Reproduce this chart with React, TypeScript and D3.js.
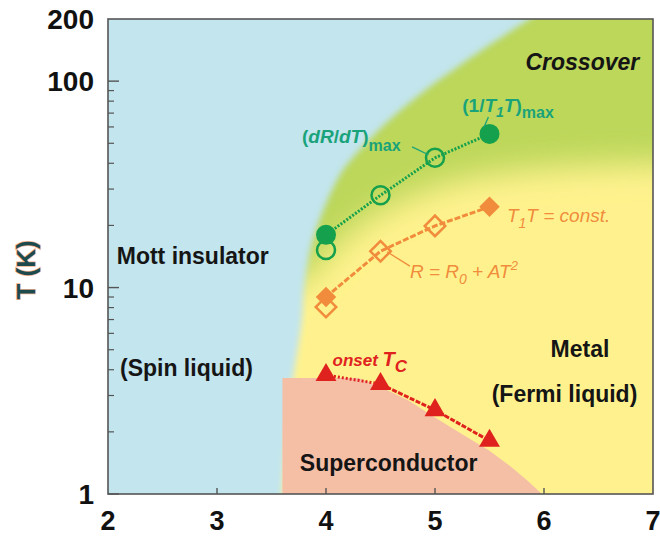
import * as d3 from "d3";

// axis ticks
const xTicks = [2, 3, 4, 5, 6, 7];
const yTickLabels = [1, 10, 100, 200];
const yMajor = [1, 10, 100];
const yMinor = [2, 3, 4, 5, 6, 7, 8, 9, 20, 30, 40, 50, 60, 70, 80, 90];

// green: (dR/dT)max open circles, (1/T1T)max filled circles
const dRdTx = [4, 4.5, 5];
const dRdTT = [15.2, 28, 42.5];
const nmrX = [4, 5.5];
const nmrT = [18, 55.5];
const greenLineX = [4, 4.5, 5, 5.5];
const greenLineT = [18, 28, 42.5, 55.5];

// orange: R = R0 + AT^2 open diamonds, T1T = const filled diamonds
const fermiX = [4, 4.5, 5];
const fermiT = [8.05, 15, 19.9];
const korrX = [4, 5.5];
const korrT = [9, 24.6];
const orangeLineX = [4, 4.5, 5, 5.5];
const orangeLineT = [9, 15, 19.9, 24.6];

// red: onset Tc
const tcX = [4, 4.5, 5, 5.5];
const tcT = [3.77, 3.41, 2.55, 1.81];

// region boundaries (x, T)
const mottEdgeX = [3.6, 3.67, 3.78, 3.8, 3.88, 4.1, 4.22, 4.68, 5.29, 5.87];
const mottEdgeT = [1, 2.85, 7, 10, 17, 33, 41, 72, 126, 200];
const crossEdgeX = [3.82, 4.2, 4.6, 5.2, 6, 7];
const crossEdgeT = [11, 18, 25, 33, 38, 40];
const scEdgeX = [3.6, 3.6, 4.3, 4.5, 4.75, 5, 5.25, 5.5, 5.7, 5.85, 5.98];
const scEdgeT = [1, 3.65, 3.65, 3.3, 2.85, 2.35, 1.95, 1.62, 1.35, 1.16, 1];

const W = 660;
const H = 537;
const x = d3.scaleLinear().domain([2, 7]).range([108, 653]);
const y = d3.scaleLog().domain([1, 200]).range([494, 19]);

const zip = (a: number[], b: number[]) => a.map((v, i) => [v, b[i]] as [number, number]);
const curve = d3
  .line<[number, number]>()
  .x((d) => x(d[0]))
  .y((d) => y(d[1]))
  .curve(d3.curveCatmullRom);
const straight = d3
  .line<[number, number]>()
  .x((d) => x(d[0]))
  .y((d) => y(d[1]));

const GREEN = "#14a04c";
const GREEN_TXT = "#1aa37a";
const ORANGE = "#f08c3c";
const RED = "#e0221e";

export default function App() {
  const mott = zip(mottEdgeX, mottEdgeT);
  const bluePath =
    curve(mott) +
    `L${x(6.4)},${y(400)}L${x(1.5)},${y(400)}L${x(1.5)},${y(0.5)}L${x(3.6)},${y(0.5)}Z`;

  // crossover tint reaches under the blue region so its blurred top edge stays green
  const greenPath =
    `M${x(1.5)},${y(400)}L${x(7.6)},${y(400)}L${x(7.6)},${y(40)}` +
    curve(zip(crossEdgeX, crossEdgeT).reverse())!.replace(/^M/, "L") +
    `L${x(3.3)},${y(9)}L${x(1.5)},${y(9)}Z`;

  const scPath =
    straight(zip(scEdgeX, scEdgeT)) + `L${x(5.98)},${y(0.5)}L${x(3.6)},${y(0.5)}Z`;

  const tri = d3.symbol(d3.symbolTriangle, 190)()!;
  const dia = d3.symbol(d3.symbolSquare, 210)()!;

  const bold = { fontFamily: "Liberation Sans, Arial, sans-serif", fontWeight: 700 } as const;
  const ital = { fontFamily: "Liberation Sans, Arial, sans-serif", fontStyle: "italic" } as const;

  return (
    <svg width={W} height={H} style={{ position: "absolute", left: 0, top: 0 }}>
      <defs>
        <clipPath id="plot">
          <rect x={108} y={19} width={545} height={475} />
        </clipPath>
        <filter id="soft" x="-50%" y="-50%" width="200%" height="200%">
          <feGaussianBlur stdDeviation="16" />
        </filter>
        <filter id="edge" x="-20%" y="-20%" width="140%" height="140%">
          <feGaussianBlur stdDeviation="3" />
        </filter>
      </defs>

      <g clipPath="url(#plot)">
        <rect x={108} y={19} width={545} height={475} fill="#fff28e" />
        <path d={greenPath} fill="#bcd75a" filter="url(#soft)" />
        <path d={bluePath} fill="#c2e5ee" filter="url(#edge)" />
        <path d={scPath} fill="#f5bfa6" />
      </g>

      {/* frame and ticks */}
      <rect x={108} y={19} width={545} height={475} fill="none" stroke="#555" strokeWidth={1.6} />
      {yMajor.map((t) => (
        <line key={"M" + t} x1={108} x2={119} y1={y(t)} y2={y(t)} stroke="#555" strokeWidth={1.4} />
      ))}
      {yMinor.map((t) => (
        <line key={"m" + t} x1={108} x2={114} y1={y(t)} y2={y(t)} stroke="#555" strokeWidth={1.2} />
      ))}
      {xTicks.slice(1, -1).map((t) => (
        <line key={"x" + t} x1={x(t)} x2={x(t)} y1={494} y2={488} stroke="#555" strokeWidth={1.4} />
      ))}
      {yTickLabels.map((t) => (
        <text key={"yl" + t} x={94} y={y(t)} dy="0.36em" textAnchor="end" fontSize={28} fill="#111" style={bold}>
          {t}
        </text>
      ))}
      {xTicks.map((t) => (
        <text key={"xl" + t} x={x(t)} y={530} textAnchor="middle" fontSize={27} fill="#111" style={bold}>
          {t}
        </text>
      ))}
      <text
        transform="translate(35,270) rotate(-90)"
        textAnchor="middle"
        fontSize={26}
        fill="#1d4b4d"
        stroke="#f6b491"
        strokeWidth={1.5}
        paintOrder="stroke"
        style={bold}
      >
        T (K)
      </text>

      {/* region labels */}
      <g fontSize={23} fill="#151515" style={bold}>
        <text x={x(5.83)} y={y(113)} style={{ ...bold, fontStyle: "italic" }}>Crossover</text>
        <text x={x(2.08)} y={y(13)}>Mott insulator</text>
        <text x={x(2.11)} y={y(3.73)}>(Spin liquid)</text>
        <text x={x(6.06)} y={y(4.61)}>Metal</text>
        <text x={x(5.52)} y={y(2.79)}>(Fermi liquid)</text>
        <text x={x(3.76)} y={y(1.29)}>Superconductor</text>
      </g>

      {/* red onset Tc */}
      <path
        d={straight(zip(tcX.slice(0, 2), tcT.slice(0, 2)))!}
        fill="none"
        stroke={RED}
        strokeWidth={3}
        strokeDasharray="2,2"
      />
      <path
        d={straight(zip(tcX.slice(1), tcT.slice(1)))!}
        fill="none"
        stroke={RED}
        strokeWidth={3}
        strokeDasharray="5,1.5"
      />
      {tcX.map((v, i) => (
        <path key={"tc" + i} d={tri} transform={`translate(${x(v)},${y(tcT[i])})`} fill={RED} />
      ))}
      <text x={x(4.06)} y={y(4.17)} fill={RED} style={{ ...ital, fontWeight: 700 }} fontSize={17}>
        onset <tspan fontSize={20}>T</tspan>
        <tspan fontSize={17} dy={6}>C</tspan>
      </text>

      {/* orange */}
      <path
        d={straight(zip(orangeLineX, orangeLineT))!}
        fill="none"
        stroke={ORANGE}
        strokeWidth={3}
        strokeDasharray="6,2"
      />
      {fermiX.map((v, i) => (
        <path
          key={"fe" + i}
          d={dia}
          transform={`translate(${x(v)},${y(fermiT[i])}) rotate(45)`}
          fill="none"
          stroke={ORANGE}
          strokeWidth={2.5}
        />
      ))}
      {korrX.map((v, i) => (
        <path key={"ko" + i} d={dia} transform={`translate(${x(v)},${y(korrT[i])}) rotate(45)`} fill={ORANGE} />
      ))}
      <path
        d={straight(zip([4.56, 4.77], [14.9, 12.7]))!}
        stroke={ORANGE}
        strokeWidth={1.3}
        fill="none"
      />
      <g fill={ORANGE} style={ital} fontSize={19}>
        <text x={x(5.66)} y={y(20.8)}>
          T<tspan fontSize={14} dy={6}>1</tspan>
          <tspan dy={-6}>T = const.</tspan>
        </text>
        <text x={x(4.77)} y={y(11.1)}>
          R = R<tspan fontSize={14} dy={6}>0</tspan>
          <tspan dy={-6}> + AT</tspan>
          <tspan fontSize={13} dy={-8}>2</tspan>
        </text>
      </g>

      {/* green */}
      <path
        d={straight(zip(greenLineX, greenLineT))!}
        fill="none"
        stroke={GREEN}
        strokeWidth={3}
        strokeDasharray="2,1.6"
      />
      {dRdTx.map((v, i) => (
        <circle key={"dr" + i} cx={x(v)} cy={y(dRdTT[i])} r={9} fill="none" stroke={GREEN} strokeWidth={2.5} />
      ))}
      {nmrX.map((v, i) => (
        <circle key={"nm" + i} cx={x(v)} cy={y(nmrT[i])} r={10} fill={GREEN} />
      ))}
      <path d={straight(zip([4.79, 4.94], [48, 44]))!} stroke={GREEN_TXT} strokeWidth={1.3} fill="none" />
      <path d={straight(zip([5.49, 5.45], [67, 60]))!} stroke={GREEN_TXT} strokeWidth={1.3} fill="none" />
      <g fill={GREEN_TXT} fontSize={19} style={{ fontFamily: "Liberation Sans, Arial, sans-serif", fontWeight: 700 }}>
        <text x={x(3.78)} y={y(50.3)}>
          (<tspan fontStyle="italic">dR</tspan>/<tspan fontStyle="italic">dT</tspan>)
          <tspan fontSize={16} dy={8}>max</tspan>
        </text>
        <text x={x(5.25)} y={y(71)}>
          (1/<tspan fontStyle="italic">T</tspan>
          <tspan fontSize={14} dy={5} fontStyle="italic">1</tspan>
          <tspan dy={-5} fontStyle="italic">T</tspan>)
          <tspan fontSize={16} dy={6}>max</tspan>
        </text>
      </g>
    </svg>
  );
}
